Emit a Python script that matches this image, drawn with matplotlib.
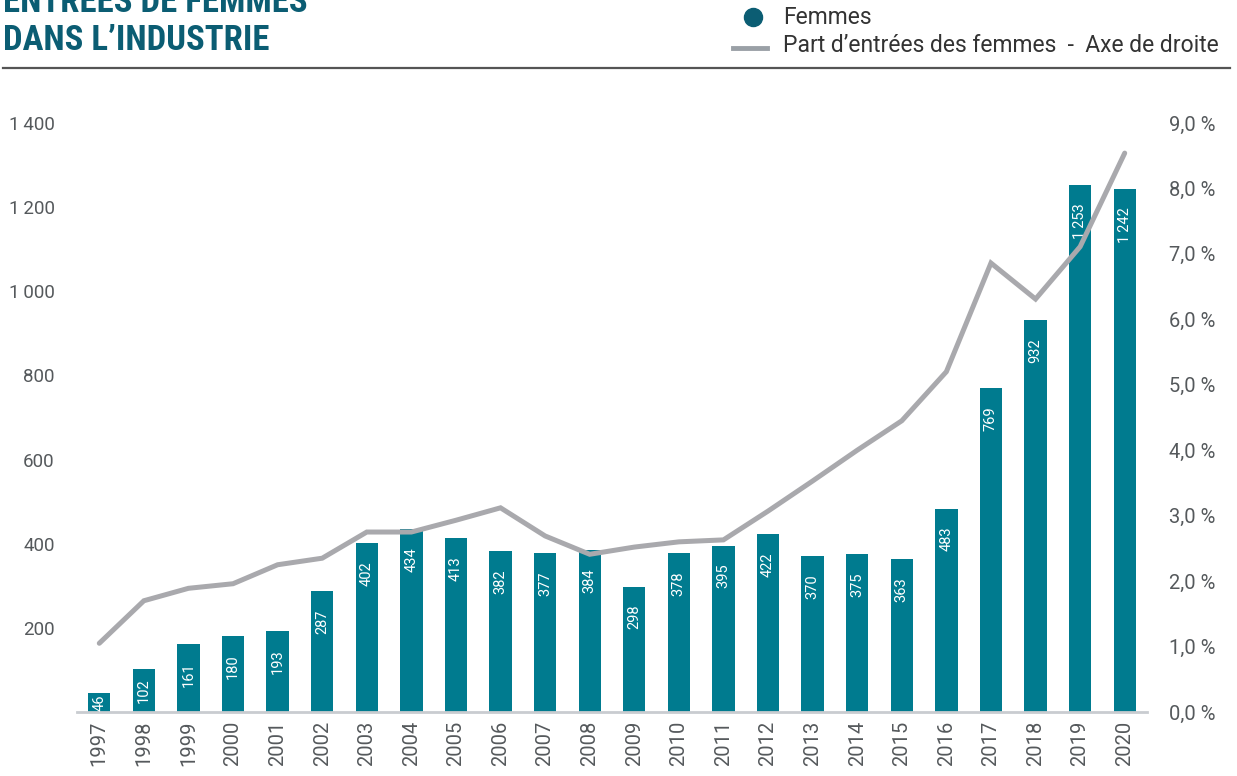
import matplotlib
matplotlib.use("Agg")
import matplotlib.pyplot as plt
from matplotlib.lines import Line2D
import matplotlib.ticker as mticker

years = list(range(1997, 2021))
femmes = [46, 102, 161, 180, 193, 287, 402, 434, 413, 382, 377, 384, 298, 378,
          395, 422, 370, 375, 363, 483, 769, 932, 1253, 1242]
part_pct = [1.05, 1.70, 1.89, 1.96, 2.25, 2.35, 2.75, 2.75, 2.93, 3.12, 2.69, 2.41,
            2.52, 2.60, 2.63, 3.07, 3.53, 4.00, 4.45, 5.20, 6.86, 6.31, 7.11, 8.54]
left_ticks = [200, 400, 600, 800, 1000, 1200, 1400]
right_ticks = [0, 1, 2, 3, 4, 5, 6, 7, 8, 9]

TEAL = "#007b8f"
TITLE = "#0b5d73"
GREY_LINE = "#a9a9ad"
TICK_COL = "#55595c"

plt.rcParams['font.family'] = ['Roboto', 'DejaVu Sans']

fig = plt.figure(figsize=(12.37, 7.76), dpi=100)
ax = fig.add_axes([77/1237, 1-712/776, (1147-77)/1237, (712-123)/776])
ax2 = ax.twinx()

x = list(range(len(years)))
bars = ax.bar(x, femmes, width=0.5, color=TEAL, zorder=2)
ax.set_ylim(0, 1400)
ax.set_xlim(-0.5, len(years) - 0.5)
ax.set_yticks(left_ticks)
ax.yaxis.set_major_formatter(mticker.FuncFormatter(lambda v, p: f"{int(v):,}".replace(",", "\u2009")))
ax.set_xticks(x)
ax.set_xticklabels([str(y) for y in years], rotation=90)

for s in ["top", "right", "left"]:
    ax.spines[s].set_visible(False)
    ax2.spines[s].set_visible(False)
ax2.spines["bottom"].set_visible(False)
ax.spines["bottom"].set_color("#c9ccd0")
ax.spines["bottom"].set_linewidth(2)
ax.tick_params(axis="both", length=0, colors=TICK_COL, labelsize=13.5)
ax.tick_params(axis="y", pad=16)
ax.tick_params(axis="x", pad=6, labelsize=14.5)

ax2.plot(x, part_pct, color=GREY_LINE, linewidth=3.6, solid_capstyle="round",
         solid_joinstyle="miter", zorder=3)
ax2.set_ylim(0, 9)
ax2.set_yticks(right_ticks)
ax2.yaxis.set_major_formatter(mticker.FuncFormatter(lambda v, p: f"{v:.1f}".replace(".", ",") + " %"))
ax2.tick_params(axis="y", length=0, colors=TICK_COL, labelsize=14.5, pad=16)

# bar labels
px_per_unit = (712 - 123) / 1400
for xi, v in zip(x, femmes):
    h_px = v * px_per_unit
    txt = f"{v:,}".replace(",", "\u2009")
    if h_px > 60:
        ax.annotate(txt, (xi, v), xytext=(0, -13), textcoords="offset points",
                    ha="center", va="top", rotation=90, color="white", fontsize=10.5, zorder=4)
    else:
        ax.text(xi, v / 2, txt, ha="center", va="center", rotation=90,
                color="white", fontsize=10.5, zorder=4)

# title
fig.text(3/1237, 1 - 50/776, "ENTRÉES DE FEMMES\nDANS L\u2019INDUSTRIE", color=TITLE,
         fontsize=25, fontweight="bold", ha="left", va="baseline", linespacing=1.2,
         family=['Roboto Condensed', 'Roboto', 'DejaVu Sans'])

# rule
fig.add_artist(Line2D([3/1237, 1230/1237], [1 - 68/776] * 2, color="#555555", linewidth=1.6))

# legend
fig.add_artist(Line2D([753/1237], [1 - 17/776], marker="o", markersize=13, color=TITLE,
                      linestyle="none"))
fig.add_artist(Line2D([733/1237, 767/1237], [1 - 48/776] * 2, color="#9aa0a6", linewidth=3.5))
fig.text(783/1237, 1 - 24/776, "Femmes", fontsize=16.5, color="#333333", va="baseline")
fig.text(783/1237, 1 - 52/776, "Part d\u2019entrées des femmes  -  Axe de droite", fontsize=16.5,
         color="#333333", va="baseline")

fig.savefig("out.png", dpi=100)
